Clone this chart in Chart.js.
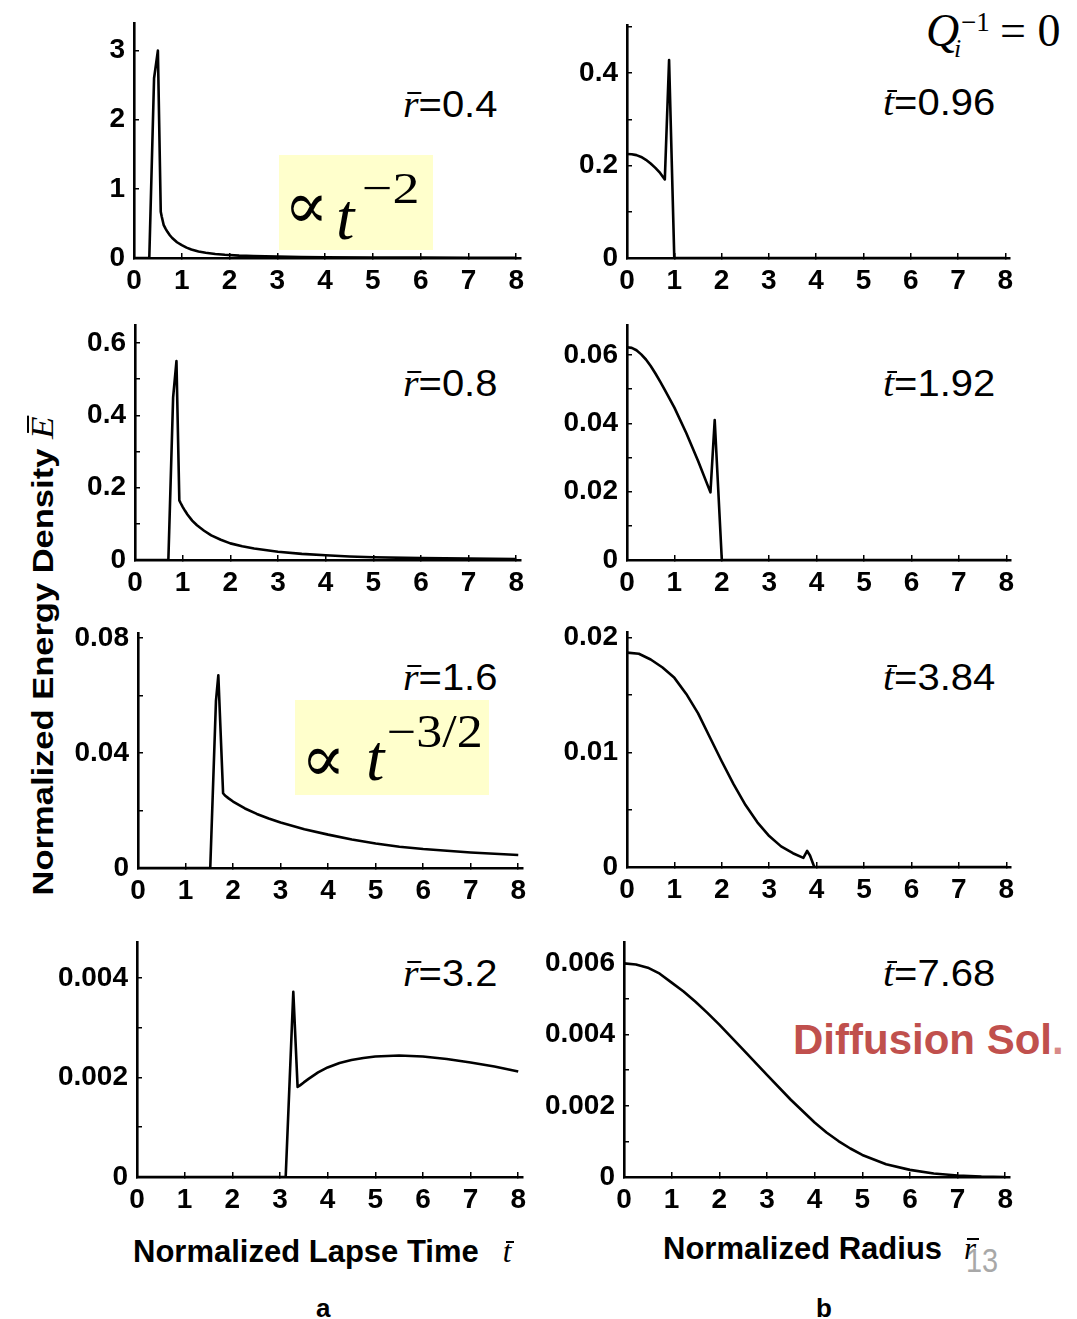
<!DOCTYPE html>
<html>
<head>
<meta charset="utf-8">
<script src="https://cdn.jsdelivr.net/npm/chart.js@4.4.1/dist/chart.umd.min.js"></script>
<style>
  body { margin: 0; background: #fff; }
  #fig { position: relative; width: 1077px; height: 1319px; overflow: hidden; font-family: "Liberation Sans", Arial, sans-serif; }
  .panel { position: absolute; }
  .txt { position: absolute; white-space: nowrap; line-height: 1; color: #000; }
  .serif { font-family: "Liberation Serif", "Times New Roman", "DejaVu Serif", serif; }
  .it { font-style: italic; }
  /* italic symbol with a bar over it */
  .ov { position: relative; display: inline-block; line-height: 1; font-family: "Liberation Serif", "Times New Roman", serif; font-style: italic; font-weight: normal; }
  .ov::after { content: ''; position: absolute; left: 0.1em; right: -0.08em; top: 0.15em; border-top: 2px solid #000; }
  .ov.cap::after { top: 0.04em; left: 0.18em; right: -0.02em; }
  .val { font-size: 37px; transform: scaleX(1.08); transform-origin: left center; }
  .box { position: absolute; background: #ffffcc; }
  .sup { transform-origin: left center; }
  .title { font-size: 31px; font-weight: bold; }
</style>
</head>
<body>
<div id="fig">
  <!-- source distance for each trace in column a -->
  <div class="txt val" style="left:403px; top:86px;"><span class="ov">r</span>=0.4</div>
  <div class="txt val" style="left:403px; top:365px;"><span class="ov">r</span>=0.8</div>
  <div class="txt val" style="left:403px; top:659px;"><span class="ov">r</span>=1.6</div>
  <div class="txt val" style="left:403px; top:955px;"><span class="ov">r</span>=3.2</div>
  <!-- lapse time for each profile in column b -->
  <div class="txt val" style="left:883px; top:84px;"><span class="ov">t</span>=0.96</div>
  <div class="txt val" style="left:883px; top:365px;"><span class="ov">t</span>=1.92</div>
  <div class="txt val" style="left:883px; top:659px;"><span class="ov">t</span>=3.84</div>
  <div class="txt val" style="left:883px; top:955px;"><span class="ov">t</span>=7.68</div>

  <!-- decay laws of the coda -->
  <div class="box" style="left:279px; top:155px; width:154px; height:95px;"></div>
  <div class="txt serif" style="left:284px; top:173px; font-size:66px;">&#8733;</div>
  <div class="txt serif it" style="left:336px; top:184px; font-size:66px;">t</div>
  <div class="txt serif sup" style="left:362px; top:166px; font-size:45px; transform:scaleX(1.2);">&#8722;2</div>

  <div class="box" style="left:295px; top:700px; width:194px; height:95px;"></div>
  <div class="txt serif" style="left:301px; top:726px; font-size:66px;">&#8733;</div>
  <div class="txt serif it" style="left:366px; top:725px; font-size:66px;">t</div>
  <div class="txt serif sup" style="left:387px; top:709px; font-size:46px; transform:scaleX(1.13);">&#8722;3/2</div>

  <!-- attenuation condition -->
  <div class="txt serif it" style="left:926px; top:8px; font-size:46px;">Q</div>
  <div class="txt serif" style="left:961px; top:9px; font-size:27px;">&#8722;1</div>
  <div class="txt serif it" style="left:954px; top:36px; font-size:26px;">i</div>
  <div class="txt serif" style="left:1000px; top:8px; font-size:46px;">= 0</div>

  <div class="txt" style="left:793px; top:1019px; font-size:42px; font-weight:bold; color:#c0504d;">Diffusion Sol<span style="color:#d88a88;">.</span></div>

  <!-- axis titles -->
  <div class="txt" style="left:-237px; top:638px; width:560px; height:36px; line-height:36px; text-align:center; transform:rotate(-90deg) scaleX(1.15);">
    <span class="title" style="font-size:30px;">Normalized Energy Density </span><span class="ov cap" style="font-size:32px;">E</span>
  </div>
  <div class="txt title" style="left:133px; top:1236px;">Normalized Lapse Time<span class="ov" style="margin-left:24px;">t</span></div>
  <div class="txt title" style="left:663px; top:1233px;">Normalized Radius<span class="ov" style="margin-left:22px;">r</span></div>
  <div class="txt" style="left:966px; top:1243px; font-size:34px; color:#a8a8a8; transform:scaleX(0.85); transform-origin:left;">13</div>
  <div class="txt" style="left:316px; top:1295px; font-size:26px; font-weight:bold;">a</div>
  <div class="txt" style="left:816px; top:1295px; font-size:26px; font-weight:bold;">b</div>
</div>

<script>
// column a: energy density vs lapse time at a fixed distance
const tR04 = [0, 0.32, 0.42, 0.50, 0.56, 0.58, 0.62, 0.66, 0.7, 0.75, 0.8, 0.9, 1.0, 1.1, 1.2, 1.35, 1.5, 1.7, 1.9, 2.2, 2.5, 3.0, 3.5, 4.0, 5.0, 6.0, 7.0, 8.0];
const eR04 = [0, 0, 2.6, 3.0, 0.67, 0.6, 0.48, 0.425, 0.378, 0.329, 0.289, 0.228, 0.185, 0.15, 0.122, 0.095, 0.077, 0.059, 0.047, 0.035, 0.028, 0.02, 0.015, 0.0116, 0.0074, 0.0051, 0.0038, 0.0029];

const tR08 = [0, 0.70, 0.80, 0.87, 0.93, 0.96, 1.0, 1.05, 1.1, 1.2, 1.3, 1.45, 1.6, 1.8, 2.0, 2.25, 2.5, 3.0, 3.5, 4.0, 4.5, 5, 6, 7, 8];
const eR08 = [0, 0, 0.45, 0.55, 0.165, 0.157, 0.147, 0.136, 0.126, 0.109, 0.096, 0.081, 0.068, 0.056, 0.046, 0.038, 0.032, 0.023, 0.017, 0.013, 0.0098, 0.0077, 0.0052, 0.0037, 0.0028];

const tR16 = [0, 1.52, 1.64, 1.69, 1.79, 1.83, 1.9, 2.0, 2.25, 2.5, 2.75, 3.0, 3.5, 4.0, 4.5, 5.0, 5.5, 6.0, 7.0, 8.0];
const eR16 = [0, 0, 0.058, 0.067, 0.026, 0.0252, 0.0243, 0.0231, 0.0207, 0.0188, 0.0172, 0.0158, 0.0135, 0.0116, 0.0099, 0.0085, 0.0074, 0.0066, 0.0054, 0.0045];

const tR32 = [0, 3.12, 3.28, 3.37, 3.42, 3.5, 3.6, 3.8, 4.0, 4.25, 4.5, 4.75, 5.0, 5.5, 6.0, 6.5, 7.0, 7.5, 8.0];
const eR32 = [0, 0, 0.00372, 0.00181, 0.00184, 0.0019, 0.00197, 0.0021, 0.0022, 0.00229, 0.00235, 0.00239, 0.00242, 0.00244, 0.00242, 0.00237, 0.0023, 0.00222, 0.00212];

// column b: energy density vs radius at a fixed lapse time
const rT096 = [0, 0.1, 0.2, 0.3, 0.4, 0.5, 0.6, 0.7, 0.8, 0.89, 1.0, 8.0];
const eT096 = [0.225, 0.2245, 0.2225, 0.2185, 0.2125, 0.2045, 0.195, 0.184, 0.17, 0.428, 0, 0];

const rT192 = [0, 0.1, 0.2, 0.3, 0.4, 0.5, 0.6, 0.7, 0.8, 0.9, 1.0, 1.25, 1.5, 1.76, 1.85, 2.0, 8.0];
const eT192 = [0.0623, 0.0621, 0.0614, 0.0602, 0.0587, 0.0568, 0.0546, 0.0522, 0.0497, 0.0472, 0.0446, 0.0372, 0.029, 0.0198, 0.041, 0, 0];

const rT384 = [0, 0.25, 0.5, 0.75, 1.0, 1.25, 1.5, 1.75, 2.0, 2.25, 2.5, 2.75, 3.0, 3.25, 3.5, 3.72, 3.8, 3.86, 3.95, 8.0];
const eT384 = [0.0187, 0.0186, 0.0181, 0.0174, 0.0165, 0.0151, 0.0134, 0.0113, 0.0092, 0.0072, 0.0054, 0.0039, 0.0027, 0.0018, 0.0012, 0.0008, 0.0014, 0.001, 0, 0];

const rT768 = [0, 0.25, 0.5, 0.75, 1.0, 1.25, 1.5, 1.75, 2.0, 2.5, 3.0, 3.5, 4.0, 4.25, 4.5, 4.75, 5.0, 5.5, 6.0, 6.5, 7.0, 7.5, 8.0];
const eT768 = [0.006, 0.00597, 0.00588, 0.00571, 0.00546, 0.00521, 0.00492, 0.00461, 0.00428, 0.00358, 0.00287, 0.00217, 0.00153, 0.00125, 0.00101, 0.0008, 0.00062, 0.00036, 0.0002, 0.0001, 0.00004, 0.00001, 0];

const xTickMax = 8;

// axis origin / end pixels and y ranges for each small plot
const panels = [
  { x: tR04,  y: eR04,  axisX: 134, x8: 516,  y0: 258,  top: 23,  ymax: 3.4,     major: 1,     minor: 1 },
  { x: rT096, y: eT096, axisX: 627, x8: 1005, y0: 258,  top: 25,  ymax: 0.504,   major: 0.2,   minor: 0.1 },
  { x: tR08,  y: eR08,  axisX: 135, x8: 516,  y0: 560,  top: 325, ymax: 0.65,    major: 0.2,   minor: 0.1 },
  { x: rT192, y: eT192, axisX: 627, x8: 1006, y0: 560,  top: 325, ymax: 0.0688,  major: 0.02,  minor: 0.01 },
  { x: tR16,  y: eR16,  axisX: 138, x8: 518,  y0: 868,  top: 633, ymax: 0.0817,  major: 0.04,  minor: 0.02 },
  { x: rT384, y: eT384, axisX: 627, x8: 1006, y0: 867,  top: 632, ymax: 0.0205,  major: 0.01,  minor: 0.005 },
  { x: tR32,  y: eR32,  axisX: 137, x8: 518,  y0: 1177, top: 942, ymax: 0.00472, major: 0.002, minor: 0.001 },
  { x: rT768, y: eT768, axisX: 624, x8: 1005, y0: 1177, top: 942, ymax: 0.0066,  major: 0.002, minor: 0.001 }
];

// room kept round each plot area so tick labels never push it inward
const YW = 110, XH = 44, PAD_T = 36, PAD_R = 24;
const tickFont = { family: 'Liberation Sans, Arial, sans-serif', size: 28, weight: 'bold' };
const fig = document.getElementById('fig');

function fmt(v) {
  return v === 0 ? '0' : String(parseFloat(v.toPrecision(6)));
}

panels.forEach(p => {
  const unit = (p.x8 - p.axisX) / xTickMax;
  const xmax = xTickMax + 0.1;
  const plotW = unit * xmax;
  const plotH = p.y0 - p.top;

  const canvas = document.createElement('canvas');
  canvas.className = 'panel';
  canvas.width = Math.round(YW + plotW + PAD_R);
  canvas.height = Math.round(PAD_T + plotH + XH);
  canvas.style.left = (p.axisX - YW) + 'px';
  canvas.style.top = (p.top - PAD_T) + 'px';
  fig.appendChild(canvas);

  new Chart(canvas, {
    type: 'line',
    data: {
      datasets: [{
        data: p.x.map((v, i) => ({ x: v, y: p.y[i] })),
        borderColor: '#000',
        borderWidth: 2.6,
        borderJoinStyle: 'round',
        pointRadius: 0,
        fill: false,
        tension: 0
      }]
    },
    options: {
      responsive: false,
      animation: false,
      devicePixelRatio: 1,
      layout: { padding: { top: PAD_T, right: PAD_R, left: 0, bottom: 0 } },
      plugins: { legend: { display: false }, tooltip: { enabled: false } },
      scales: {
        x: {
          type: 'linear', min: 0, max: xmax,
          afterFit: s => { s.height = XH; },
          border: { color: '#000', width: 2.6 },
          grid: { drawOnChartArea: false, tickLength: -5, color: '#000', lineWidth: 1.5 },
          ticks: { stepSize: 1, includeBounds: false, autoSkip: false, maxRotation: 0,
                   padding: 11, color: '#000', font: tickFont }
        },
        y: {
          type: 'linear', min: 0, max: p.ymax,
          afterFit: s => { s.width = YW; },
          border: { color: '#000', width: 2.6 },
          grid: { drawOnChartArea: false, tickLength: -5, color: '#000', lineWidth: 1.5 },
          ticks: {
            stepSize: p.minor, includeBounds: false, autoSkip: false,
            padding: 14, color: '#000', font: tickFont,
            callback: v => {
              const k = v / p.major;
              return Math.abs(k - Math.round(k)) < 1e-6 ? fmt(v) : '';
            }
          }
        }
      }
    }
  });
});
</script>
</body>
</html>
